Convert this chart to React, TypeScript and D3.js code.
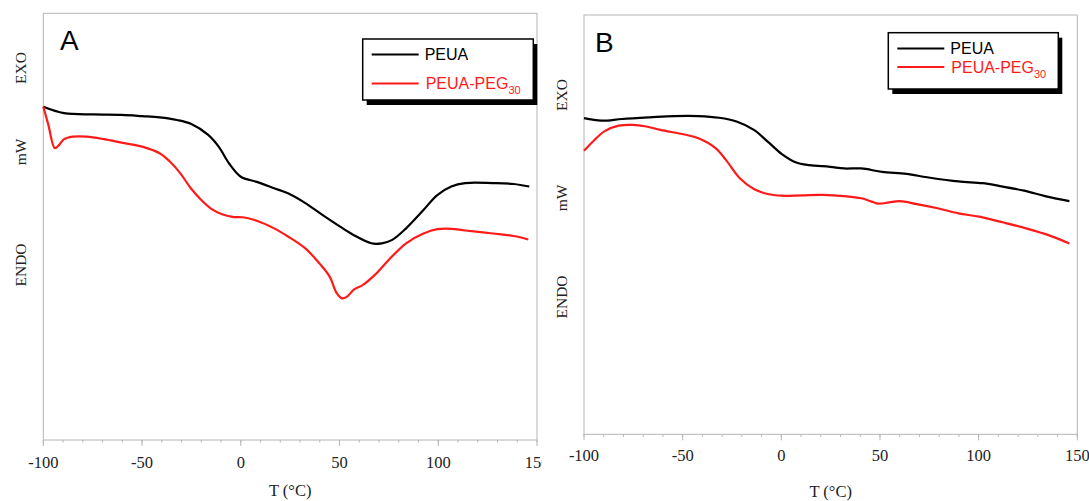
import React from "react";
import * as d3 from "d3";

// ---- Data (T in °C, heat flow in arbitrary units, 0 = bottom of frame, 100 = top) ----
const panelA_PEUA: [number, number][] = [
  [-100, 78.1], [-89.5, 76.6], [-74.5, 76.3], [-60.4, 76.2], [-49.9, 75.9], [-41.1, 75.6],
  [-32.3, 75.0], [-25.3, 74.1], [-16.5, 71.5], [-11.2, 68.75], [-5.9, 64.8], [0, 61.7],
  [8.1, 60.5], [16.9, 59.0], [23.9, 57.8], [32.7, 55.5], [41.5, 52.7], [50.3, 50.0],
  [57.3, 48.0], [66.1, 46.1], [71.4, 46.1], [76.7, 46.9], [83.7, 49.6], [92.5, 53.9],
  [99.5, 57.4], [106.6, 59.4], [113.6, 60.2], [127.7, 60.2], [138.2, 60.0], [146.1, 59.4],
];
const panelA_PEG30: [number, number][] = [
  [-100, 78.1], [-97.4, 73.8], [-94.2, 68.4], [-92.1, 69.1], [-89.5, 70.5], [-85.1, 71.1],
  [-78.0, 71.1], [-69.2, 70.5], [-60.4, 69.7], [-49.9, 68.75], [-41.1, 67.2], [-35.8, 65.2],
  [-30.6, 62.5], [-25.3, 59.0], [-20.0, 56.25], [-14.7, 54.1], [-9.5, 52.9], [-4.2, 52.3],
  [1.1, 52.2], [8.1, 51.4], [16.9, 49.6], [23.9, 47.7], [32.7, 44.9], [39.8, 41.4],
  [45.0, 38.3], [48.6, 34.4], [51.2, 33.2], [53.8, 33.6], [57.4, 35.3], [61.7, 36.3],
  [67.9, 38.7], [74.9, 42.2], [83.7, 46.1], [92.5, 48.4], [99.5, 49.4], [106.6, 49.5],
  [113.6, 49.1], [127.7, 48.4], [138.2, 47.8], [145.6, 47.0],
];
const panelB_PEUA: [number, number][] = [
  [-100, 75.4], [-91.2, 74.8], [-80.7, 75.2], [-66.6, 75.6], [-54.3, 75.9], [-42.0, 75.9],
  [-31.5, 75.5], [-22.7, 74.6], [-13.9, 72.6], [-6.9, 69.8], [0.1, 66.9], [7.2, 64.9],
  [14.2, 64.2], [24.7, 63.8], [31.8, 63.4], [40.5, 63.4], [51.1, 62.6], [63.4, 62.1],
  [73.9, 61.3], [89.7, 60.3], [102.0, 59.9], [110.8, 59.2], [123.1, 58.1], [133.7, 56.8],
  [146.0, 55.6],
];
const panelB_PEG30: [number, number][] = [
  [-100, 67.6], [-94.7, 70.2], [-89.5, 72.3], [-82.4, 73.6], [-75.4, 73.8], [-68.4, 73.4],
  [-61.3, 72.6], [-49.1, 71.5], [-42.0, 70.6], [-33.2, 68.2], [-28.0, 65.4], [-20.9, 61.0],
  [-13.9, 58.5], [-6.9, 57.3], [0.1, 56.9], [10.7, 57.0], [21.2, 57.1], [31.8, 56.8],
  [40.5, 56.3], [45.8, 55.5], [49.3, 55.0], [54.6, 55.3], [59.9, 55.6], [68.7, 54.9],
  [79.2, 53.9], [89.7, 52.7], [100.3, 51.9], [112.6, 50.5], [124.9, 49.0], [135.4, 47.5],
  [146.0, 45.5],
];

const majorTicks = [-100, -50, 0, 50, 100, 150];
const minorTicks = d3.range(-100, 151, 10);
const seriesNames = ["PEUA", "PEUA-PEG", "30"];
const yLabels = ["EXO", "mW", "ENDO"];
const xTitle = "T (°C)";

const RED = "#ff1a1a";
const GRID = "#b4b4b4";
const SERIF = "'Liberation Serif', 'Times New Roman', serif";
const SANS = "'Liberation Sans', Arial, sans-serif";

type Panel = {
  letter: string;
  x0: number; x1: number; y0: number; y1: number;
  black: [number, number][]; red: [number, number][];
  tickY: number; titleY: number; labelX: number; labelYs: number[];
  letterX: number; letterY: number;
  leg: { x: number; y: number; w: number; h: number; l1: number; l2: number };
  clipW: number;
};

const panels: Panel[] = [
  {
    letter: "A", x0: 43.3, x1: 537, y0: 13.3, y1: 440,
    black: panelA_PEUA, red: panelA_PEG30,
    tickY: 468, titleY: 496, labelX: 20, labelYs: [68, 152, 265],
    letterX: 60, letterY: 50,
    leg: { x: 362.7, y: 39, w: 170.6, h: 61, l1: 54.5, l2: 83.5 },
    clipW: 542,
  },
  {
    letter: "B", x0: 584, x1: 1077.3, y0: 15, y1: 434.3,
    black: panelB_PEUA, red: panelB_PEG30,
    tickY: 461, titleY: 496.5, labelX: 561, labelYs: [95, 198, 297],
    letterX: 595, letterY: 51.5,
    leg: { x: 888.3, y: 32.7, w: 170, h: 56.3, l1: 48.5, l2: 67 },
    clipW: 1089,
  },
];

function PanelView({ p, idx }: { p: Panel; idx: number }) {
  const x = d3.scaleLinear().domain([-100, 150]).range([p.x0, p.x1]);
  const y = d3.scaleLinear().domain([0, 100]).range([p.y1, p.y0]);
  const line = d3
    .line<[number, number]>()
    .x((d) => x(d[0]))
    .y((d) => y(d[1]))
    .curve(d3.curveCatmullRom.alpha(0.5));
  const clipId = `clip${idx}`;
  const L = p.leg;
  return (
    <g>
      <defs>
        <clipPath id={clipId}>
          <rect x={0} y={0} width={p.clipW} height={501} />
        </clipPath>
      </defs>
      <g clipPath={`url(#${clipId})`}>
        <rect x={p.x0} y={p.y0} width={p.x1 - p.x0} height={p.y1 - p.y0} fill="none" stroke={GRID} strokeWidth={1} />
        {minorTicks.map((t) => (
          <line key={"m" + t} x1={x(t)} x2={x(t)} y1={p.y1} y2={p.y1 + 2.5} stroke={GRID} strokeWidth={1} />
        ))}
        {majorTicks.map((t) => (
          <g key={"M" + t}>
            <line x1={x(t)} x2={x(t)} y1={p.y1} y2={p.y1 + 6} stroke={GRID} strokeWidth={1} />
            <text x={x(t)} y={p.tickY} textAnchor="middle" fontFamily={SERIF} fontSize={16.5} fill="#222">
              {t}
            </text>
          </g>
        ))}
        <text x={(p.x0 + p.x1) / 2} y={p.titleY} textAnchor="middle" fontFamily={SERIF} fontSize={16.5} fill="#222">
          {xTitle}
        </text>
        {yLabels.map((s, i) => (
          <text
            key={s}
            transform={`translate(${p.labelX},${p.labelYs[i]}) rotate(-90)`}
            textAnchor="middle"
            dominantBaseline="central"
            fontFamily={SERIF}
            fontSize={15.5}
            fill="#222"
          >
            {s}
          </text>
        ))}
        <text x={p.letterX} y={p.letterY} fontFamily={SANS} fontSize={28} fill="#000">
          {p.letter}
        </text>
        <path d={line(p.black) || ""} fill="none" stroke="#000" strokeWidth={2.2} strokeLinejoin="round" />
        <path d={line(p.red) || ""} fill="none" stroke={RED} strokeWidth={2.2} strokeLinejoin="round" />
        <rect x={L.x + 4} y={L.y + 5} width={L.w} height={L.h} fill="#000" />
        <rect x={L.x} y={L.y} width={L.w} height={L.h} fill="#fff" stroke="#000" strokeWidth={1.5} />
        <line x1={L.x + 9} x2={L.x + 56} y1={L.l1} y2={L.l1} stroke="#000" strokeWidth={2} />
        <text x={L.x + 62} y={L.l1 + 5.5} fontFamily={SANS} fontSize={16} fill="#000">
          {seriesNames[0]}
        </text>
        <line x1={L.x + 9} x2={L.x + 56} y1={L.l2} y2={L.l2} stroke={RED} strokeWidth={2} />
        <text x={L.x + 63} y={L.l2 + 5.5} fontFamily={SANS} fontSize={16} fill={RED}>
          {seriesNames[1]}
          <tspan fontSize={11} dy={5}>{seriesNames[2]}</tspan>
        </text>
      </g>
    </g>
  );
}

export default function App() {
  return (
    <svg
      width={1089}
      height={501}
      viewBox="0 0 1089 501"
      style={{ position: "absolute", left: 0, top: 0, background: "#fff" }}
    >
      <rect x={0} y={0} width={1089} height={501} fill="#fff" />
      {panels.map((p, i) => (
        <PanelView key={p.letter} p={p} idx={i} />
      ))}
    </svg>
  );
}
